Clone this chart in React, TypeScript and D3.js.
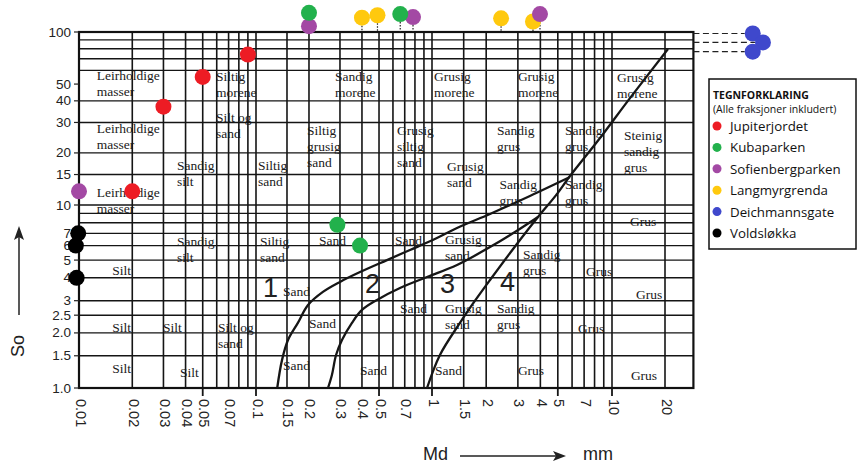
import React from "react";
import * as d3 from "d3";

// ---------- axis data ----------
const xTickValues = [0.01, 0.02, 0.03, 0.04, 0.05, 0.07, 0.1, 0.15, 0.2, 0.3, 0.4, 0.5, 0.7, 1, 1.5, 2, 3, 4, 5, 7, 10, 20];
const xTickLabels = ["0.01", "0.02", "0.03", "0.04", "0.05", "0.07", "0.1", "0.15", "0.2", "0.3", "0.4", "0.5", "0.7", "1", "1.5", "2", "3", "4", "5", "7", "10", "20"];
const xLongTicks = [0.05, 0.1, 0.5, 1, 5, 10];
const xGridValues = [0.02, 0.03, 0.04, 0.05, 0.06, 0.07, 0.08, 0.09, 0.1, 0.15, 0.2, 0.3, 0.4, 0.5, 0.6, 0.7, 0.8, 0.9, 1, 1.5, 2, 3, 4, 5, 6, 7, 8, 9, 10, 20];
const yTickValues = [100, 50, 40, 30, 20, 15, 10, 7, 6, 5, 4, 3, 2.5, 2, 1.5, 1];
const yTickLabels = ["100", "50", "40", "30", "20", "15", "10", "7", "6", "5", "4", "3", "2.5", "2.0", "1.5", "1.0"];
const yGridValues = [1.5, 2, 2.5, 3, 4, 5, 6, 7, 8, 9, 10, 15, 20, 30, 40, 60, 70, 80, 90];
const mdMin = 0.01;
const mdMax = 29;
const soMin = 1;
const soMax = 100;

// ---------- series ----------
const seriesNames = ["Jupiterjordet", "Kubaparken", "Sofienbergparken", "Langmyrgrenda", "Deichmannsgate", "Voldsløkka"];
const seriesColors = ["#ed1c24", "#22b14c", "#a349a4", "#ffc90e", "#3f48cc", "#000000"];

const jupiterjordetMd = [0.02, 0.03, 0.05, 0.09];
const jupiterjordetSo = [12, 37, 55, 74];
const kubaparkenMd = [0.29, 0.39, 0.2, 0.66];
const kubaparkenSo = [7.8, 6.0, 129, 127];
const sofienbergparkenMd = [0.01, 0.2, 0.78, 3.98];
const sofienbergparkenSo = [12, 108, 122, 127];
const langmyrgrendaMd = [0.4, 0.49, 2.42, 3.64];
const langmyrgrendaSo = [121, 125, 120, 115];
const deichmannsgateMd = [63, 72, 63];
const deichmannsgateSo = [98, 87, 77];
const voldslokkaMd = [0.0099, 0.0096, 0.0097];
const voldslokkaSo = [7, 6, 4];

const drawOrder = [0, 3, 2, 1, 4, 5];

// ---------- boundary curves ----------
const curve1Md = [0.132, 0.1405, 0.152, 0.173, 0.1975, 0.24, 0.3, 0.39, 0.555, 0.75, 1.01, 1.377, 2.1, 3.5, 5.84];
const curve1So = [1.0, 1.42, 1.83, 2.27, 2.84, 3.35, 3.8, 4.3, 5.0, 5.68, 6.44, 7.49, 8.93, 11.27, 14.5];
const curve2Md = [0.2565, 0.27, 0.285, 0.308, 0.351, 0.4, 0.487, 0.658, 0.937, 1.377, 2.1, 2.89, 3.88];
const curve2So = [1.0, 1.178, 1.515, 1.83, 2.27, 2.67, 3.03, 3.52, 4.04, 4.7, 5.89, 7.12, 8.6];
const curve3Md = [0.937, 1.107, 1.43, 1.73, 2.1, 3.08, 3.88, 4.89, 5.84, 8.58, 12.65, 20.8];
const curve3So = [1.0, 1.515, 2.27, 2.99, 3.89, 6.44, 8.6, 11.4, 14.7, 24.4, 41.5, 79.7];

// ---------- zone labels ----------
const zoneTexts = ["1", "2", "3", "4"];
const zoneMd = [0.1096, 0.416, 1.107, 2.39];
const zoneSo = [3.14, 3.31, 3.31, 3.39];

// ---------- region labels (left / first baseline) ----------
const regionTexts = [
  "Leirholdige\nmasser", "Leirholdige\nmasser", "Leirholdige\nmasser", "Sandig\nsilt",
  "Siltig\nmorene", "Silt og\nsand", "Siltig\nsand", "Sandig\nmorene",
  "Grusig\nmorene", "Grusig\nmorene", "Grusig\nmorene", "Siltig\ngrusig\nsand",
  "Grusig\nsiltig\nsand", "Grusig\nsand", "Sandig\ngrus", "Sandig\ngrus",
  "Sandig\ngrus", "Steinig\nsandig\ngrus", "Sandig\ngrus", "Grus",
  "Sandig\nsilt", "Siltig\nsand", "Silt", "Sand",
  "Sand", "Grusig\nsand", "Sandig\ngrus", "Grus",
  "Sand", "Sand", "Grusig\nsand", "Sandig\ngrus",
  "Grus", "Grus", "Silt", "Silt",
  "Silt og\nsand", "Sand", "Silt", "Silt",
  "Sand", "Sand", "Sand", "Grus", "Grus",
];
const regionMd = [
  0.0126, 0.0126, 0.0126, 0.0358,
  0.0594, 0.0594, 0.1026, 0.281,
  1.026, 3.0, 10.67, 0.195,
  0.633, 1.212, 2.3, 2.37,
  5.48, 11.7, 5.48, 12.65,
  0.0358, 0.1053, 0.0154, 0.228,
  0.617, 1.181, 3.2, 7.17,
  0.1423, 0.658, 1.181, 2.3,
  6.47, 13.7, 0.0154, 0.0298,
  0.061, 0.2, 0.0154, 0.0372,
  0.1423, 0.39, 1.039, 3.0, 12.8,
];
const regionSo = [
  52.8, 26.1, 11.1, 15.9,
  52.1, 30.2, 15.9, 52.1,
  52.1, 52.1, 51.3, 25.4,
  25.4, 15.7, 25.4, 12.4,
  25.4, 23.8, 12.4, 7.68,
  5.97, 5.97, 4.15, 6.05,
  6.05, 6.12, 5.07, 4.09,
  3.18, 2.57, 2.57, 2.57,
  2.0, 3.07, 2.02, 2.02,
  2.02, 2.13, 1.21, 1.15,
  1.25, 1.18, 1.18, 1.18, 1.106,
];

const W = 858;
const H = 470;

export default function App() {
  const x = d3.scaleLog().domain([0.01, 0.1, 1, 10, 20]).range([79, 256, 432, 612, 665]);
  const y = d3.scaleLog().domain([1, 10, 100]).range([388, 205, 32]);
  const left = x(mdMin);
  const right = x(mdMax);
  const top = y(soMax);
  const bottom = y(soMin);
  const R = 8;

  const series = [
    { md: jupiterjordetMd, so: jupiterjordetSo },
    { md: kubaparkenMd, so: kubaparkenSo },
    { md: sofienbergparkenMd, so: sofienbergparkenSo },
    { md: langmyrgrendaMd, so: langmyrgrendaSo },
    { md: deichmannsgateMd, so: deichmannsgateSo },
    { md: voldslokkaMd, so: voldslokkaSo },
  ].map((s, i) => ({ ...s, name: seriesNames[i], color: seriesColors[i] }));

  const line = d3
    .line<[number, number]>()
    .x((d) => x(d[0]))
    .y((d) => y(d[1]))
    .curve(d3.curveCatmullRom.alpha(0.5));

  const curves = [
    d3.zip(curve1Md, curve1So) as [number, number][],
    d3.zip(curve2Md, curve2So) as [number, number][],
    d3.zip(curve3Md, curve3So) as [number, number][],
  ];

  const gridColor = "#151515";
  const serif = "'Liberation Serif', 'Times New Roman', serif";
  const sans = "'Liberation Sans', Arial, sans-serif";

  // legend layout
  const lg = { x: 709, y: 79, w: 147, h: 170 };

  return (
    <svg width={W} height={H} style={{ position: "absolute", left: 0, top: 0, background: "#fff" }}>
      <rect x={0} y={0} width={W} height={H} fill="#fff" />

      {/* horizontal grid */}
      {yGridValues.map((v) => (
        <line key={"hy" + v} x1={left} x2={right} y1={y(v)} y2={y(v)} stroke={gridColor} strokeWidth={1.4} />
      ))}
      {/* vertical grid */}
      {xGridValues.map((v) => (
        <line key={"vx" + v} x1={x(v)} x2={x(v)} y1={top} y2={bottom} stroke={gridColor} strokeWidth={1.6} />
      ))}
      {/* long ticks below axis */}
      {xLongTicks.map((v) => (
        <line key={"lt" + v} x1={x(v)} x2={x(v)} y1={bottom} y2={bottom + 8} stroke={gridColor} strokeWidth={1.8} />
      ))}
      {/* border */}
      <rect x={left} y={top} width={right - left} height={bottom - top} fill="none" stroke="#111" strokeWidth={2.2} />

      {/* y ticks & labels */}
      {yTickValues.map((v, i) => (
        <g key={"yt" + v}>
          <line x1={left - 5} x2={left} y1={y(v)} y2={y(v)} stroke="#222" strokeWidth={1.2} />
          <text x={left - 8} y={y(v)} textAnchor="end" dominantBaseline="central" fontFamily={sans} fontSize={13.5} fill="#222">
            {yTickLabels[i]}
          </text>
        </g>
      ))}
      {/* x tick labels (rotated) */}
      {xTickValues.map((v, i) => (
        <text
          key={"xt" + v}
          transform={`translate(${x(v) + 1.5},${bottom + 11}) rotate(90)`}
          textAnchor="start"
          dominantBaseline="central"
          fontFamily={sans}
          fontSize={14.5}
          fill="#222"
        >
          {xTickLabels[i]}
        </text>
      ))}

      {/* axis titles */}
      <text x={423} y={460} fontFamily={sans} fontSize={18} fill="#222">Md</text>
      <line x1={460} x2={556} y1={456} y2={456} stroke="#222" strokeWidth={1.5} />
      <path d="M566,456 L553,451 L556,456 L553,461 Z" fill="#222" />
      <text x={583} y={460} fontFamily={sans} fontSize={18} fill="#222">mm</text>
      <text transform="translate(24,346) rotate(-90)" textAnchor="middle" fontFamily={sans} fontSize={18} fill="#222">So</text>
      <line x1={19} x2={19} y1={315} y2={236} stroke="#222" strokeWidth={1.5} />
      <path d="M19,226 L14,240 L19,237 L24,240 Z" fill="#222" />

      {/* region labels */}
      {regionTexts.map((t, i) => (
        <text key={"rl" + i} x={x(regionMd[i])} y={y(regionSo[i])} fontFamily={serif} fontSize={13.5} fill="#1a1a1a">
          {t.split("\n").map((ln, j) => (
            <tspan key={j} x={x(regionMd[i])} dy={j === 0 ? 0 : 16}>
              {ln}
            </tspan>
          ))}
        </text>
      ))}

      {/* zone numbers */}
      {zoneTexts.map((t, i) => (
        <text key={"zn" + i} x={x(zoneMd[i])} y={y(zoneSo[i])} fontFamily={sans} fontSize={27} fill="#222">
          {t}
        </text>
      ))}

      {/* boundary curves */}
      {curves.map((c, i) => (
        <path key={"cv" + i} d={line(c) || ""} fill="none" stroke="#161616" strokeWidth={2.3} />
      ))}

      {/* connector lines for off-scale points */}
      {series.map((s, si) =>
        s.md.map((m, j) => {
          const so = s.so[j];
          if (so > soMax && m <= mdMax) {
            return (
              <line key={`dl${si}-${j}`} x1={x(m)} x2={x(m)} y1={y(so) + R} y2={top} stroke="#222" strokeWidth={1.2} strokeDasharray="1.5 1.5" />
            );
          }
          if (m > mdMax) {
            return (
              <line key={`dl${si}-${j}`} x1={right} x2={x(m) - R} y1={y(so)} y2={y(so)} stroke="#222" strokeWidth={1.2} strokeDasharray="6 3.5" />
            );
          }
          return null;
        })
      )}

      {/* data points */}
      {drawOrder.map((si) =>
        series[si].md.map((m, j) => (
          <circle key={`pt${si}-${j}`} cx={x(m)} cy={y(series[si].so[j])} r={R} fill={series[si].color} />
        ))
      )}

      {/* legend */}
      <rect x={lg.x} y={lg.y} width={lg.w} height={lg.h} fill="#fff" stroke="#111" strokeWidth={1.5} />
      <text x={lg.x + 4} y={lg.y + 20} fontFamily="'Open Sans', sans-serif" fontWeight="bold" fontSize={10.5} fill="#111">
        TEGNFORKLARING
      </text>
      <text x={lg.x + 4} y={lg.y + 34} fontFamily="'Open Sans', sans-serif" fontSize={10.5} fill="#111">
        (Alle fraksjoner inkludert)
      </text>
      {seriesNames.map((n, i) => (
        <g key={"lg" + i}>
          <circle cx={lg.x + 8} cy={lg.y + 47 + i * 21.4} r={4.5} fill={seriesColors[i]} />
          <text x={lg.x + 21} y={lg.y + 47 + i * 21.4} dominantBaseline="central" fontFamily="'Open Sans', sans-serif" fontSize={13.3} fill="#111">
            {n}
          </text>
        </g>
      ))}
    </svg>
  );
}
